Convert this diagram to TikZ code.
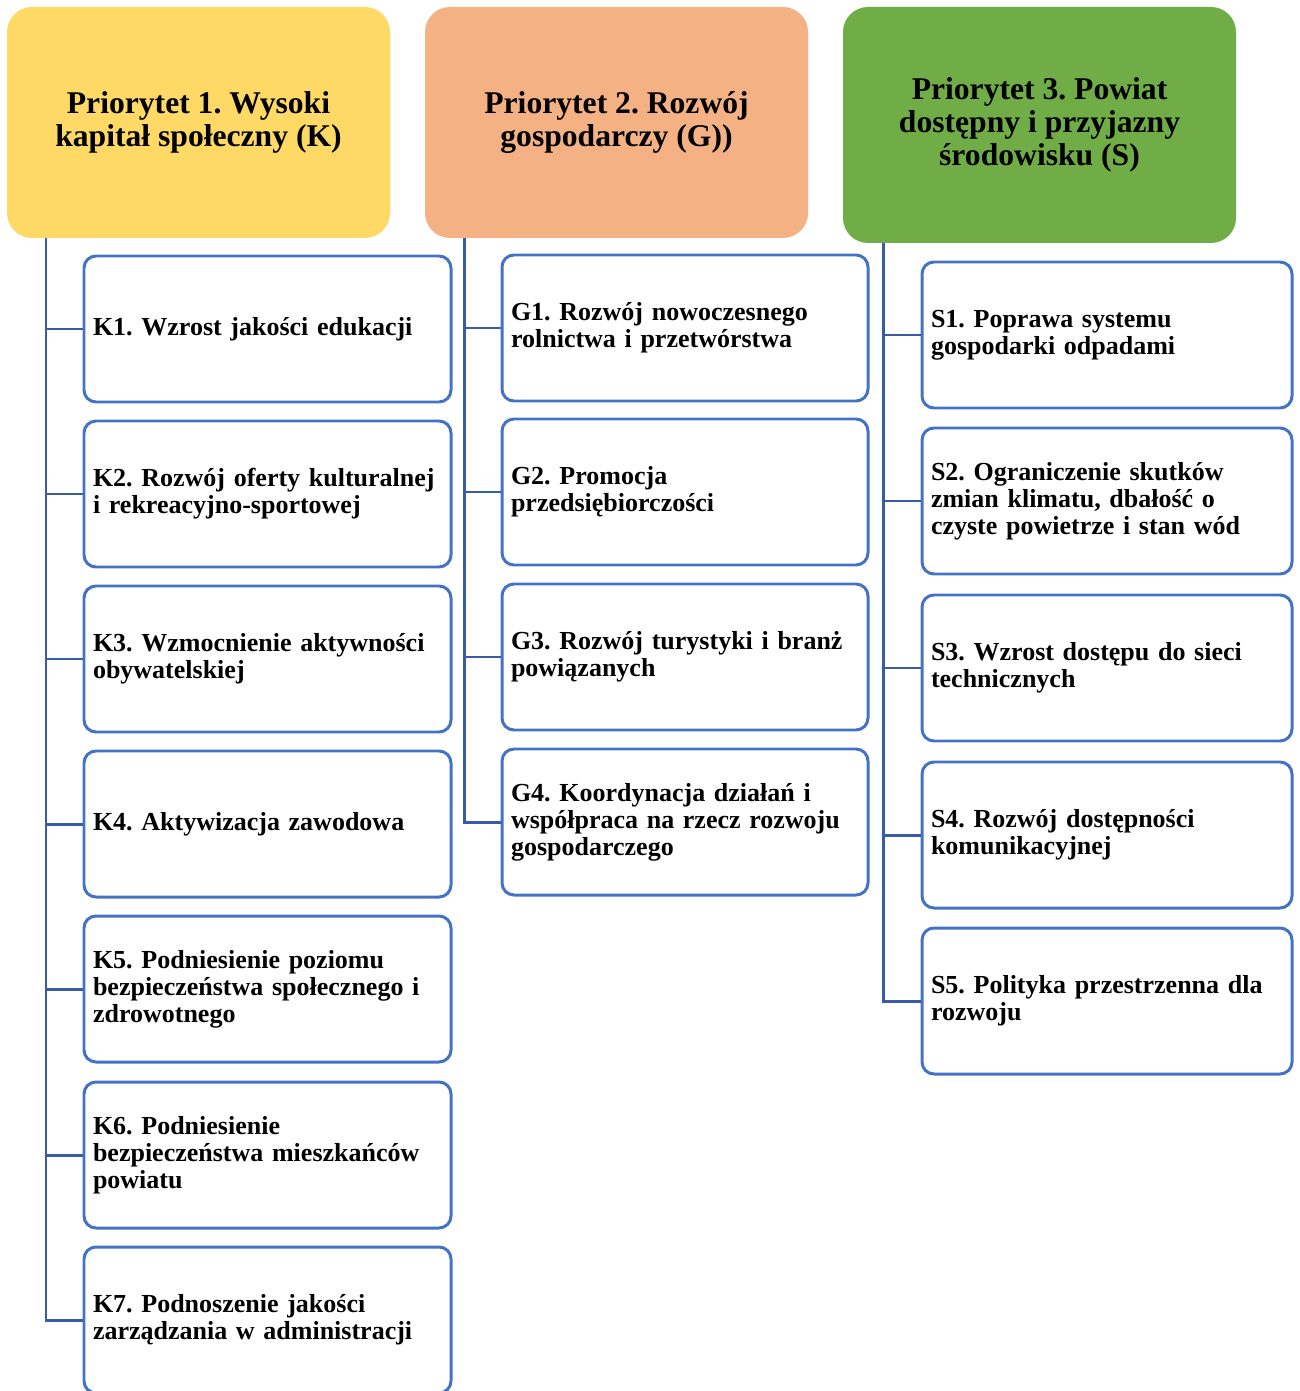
\documentclass[tikz,border=0pt]{standalone}
\usepackage{fontspec}
\setmainfont{Liberation Serif}
\usepackage{tikz}
\usetikzlibrary{positioning,calc}
\frenchspacing
\newdimen\px \px=0.02cm
\definecolor{prioyellow}{HTML}{FFD966}
\definecolor{prioorange}{HTML}{F4B183}
\definecolor{priogreen}{HTML}{70AD47}
\definecolor{celblue}{HTML}{4472C4}
\definecolor{galazblue}{HTML}{3A5BA5}
\tikzset{
  % priorytety
  prio/.style={rectangle,rounded corners=25\px,inner sep=0pt,align=center,
               font=\fontsize{18}{18.8}\selectfont\bfseries},
  % cele
  cel/.style={rectangle,rounded corners=12\px,draw=celblue,fill=white,
              line width=1.7pt,inner xsep=9\px,inner ysep=0pt,
              minimum height=146\px,align=left,
              font=\fontsize{14.8}{15.3}\selectfont\bfseries},
  galaz/.style={draw=galazblue,line width=1.7pt},
}
\begin{document}
\begin{tikzpicture}[x=0.02cm,y=-0.02cm]
  \useasboundingbox (0,0) rectangle (1299,1391);
  % naglowki
  \node[prio,fill=prioyellow,minimum width=383\px,minimum height=231\px] (p1) at (198.5,122.5)
    {Priorytet 1. Wysoki\\kapitał społeczny (K)};
  \node[prio,fill=prioorange,minimum width=383\px,minimum height=231\px] (p2) at (616.5,122.5)
    {Priorytet 2. Rozwój\\gospodarczy (G))};
  \node[prio,fill=priogreen,minimum width=393\px,minimum height=236\px] (p3) at (1039.5,125)
    {Priorytet 3. Powiat\\dostępny i przyjazny\\środowisku (S)};
  % cele K
  \node[cel,text width=349\px] (k1) at (267.5,329) {K1. Wzrost jakości edukacji};
  \node[cel,text width=349\px] (k2) at (267.5,494) {K2. Rozwój oferty kulturalnej\\i rekreacyjno-sportowej};
  \node[cel,text width=349\px] (k3) at (267.5,659) {K3. Wzmocnienie aktywności\\obywatelskiej};
  \node[cel,text width=349\px] (k4) at (267.5,824) {K4. Aktywizacja zawodowa};
  \node[cel,text width=349\px] (k5) at (267.5,989) {K5. Podniesienie poziomu\\bezpieczeństwa społecznego i\\zdrowotnego};
  \node[cel,text width=349\px] (k6) at (267.5,1155) {K6. Podniesienie\\bezpieczeństwa mieszkańców\\powiatu};
  \node[cel,text width=349\px] (k7) at (267.5,1320) {K7. Podnoszenie jakości\\zarządzania w administracji};
  % cele G
  \node[cel,text width=348\px] (g1) at (685,328) {G1. Rozwój nowoczesnego\\rolnictwa i przetwórstwa};
  \node[cel,text width=348\px] (g2) at (685,492) {G2. Promocja\\przedsiębiorczości};
  \node[cel,text width=348\px] (g3) at (685,657) {G3. Rozwój turystyki i branż\\powiązanych};
  \node[cel,text width=348\px] (g4) at (685,822) {G4. Koordynacja działań i\\współpraca na rzecz rozwoju\\gospodarczego};
  % cele S
  \node[cel,text width=352\px] (s1) at (1107,335) {S1. Poprawa systemu\\gospodarki odpadami};
  \node[cel,text width=352\px] (s2) at (1107,501) {S2. Ograniczenie skutków\\zmian klimatu, dbałość o\\czyste powietrze i stan wód};
  \node[cel,text width=352\px] (s3) at (1107,668) {S3. Wzrost dostępu do sieci\\technicznych};
  \node[cel,text width=352\px] (s4) at (1107,835) {S4. Rozwój dostępności\\komunikacyjnej};
  \node[cel,text width=352\px] (s5) at (1107,1001) {S5. Polityka przestrzenna dla\\rozwoju};
  % galezie
  \coordinate (t1) at (46,238);
  \coordinate (t2) at (464,238);
  \coordinate (t3) at (883,243);
  \draw[galaz] (t1) |- (k7);
  \draw[galaz] (t1 |- k1) -- (k1);
  \draw[galaz] (t1 |- k2) -- (k2);
  \draw[galaz] (t1 |- k3) -- (k3);
  \draw[galaz] (t1 |- k4) -- (k4);
  \draw[galaz] (t1 |- k5) -- (k5);
  \draw[galaz] (t1 |- k6) -- (k6);
  \draw[galaz] (t2) |- (g4);
  \draw[galaz] (t2 |- g1) -- (g1);
  \draw[galaz] (t2 |- g2) -- (g2);
  \draw[galaz] (t2 |- g3) -- (g3);
  \draw[galaz] (t3) |- (s5);
  \draw[galaz] (t3 |- s1) -- (s1);
  \draw[galaz] (t3 |- s2) -- (s2);
  \draw[galaz] (t3 |- s3) -- (s3);
  \draw[galaz] (t3 |- s4) -- (s4);
\end{tikzpicture}
\end{document}
